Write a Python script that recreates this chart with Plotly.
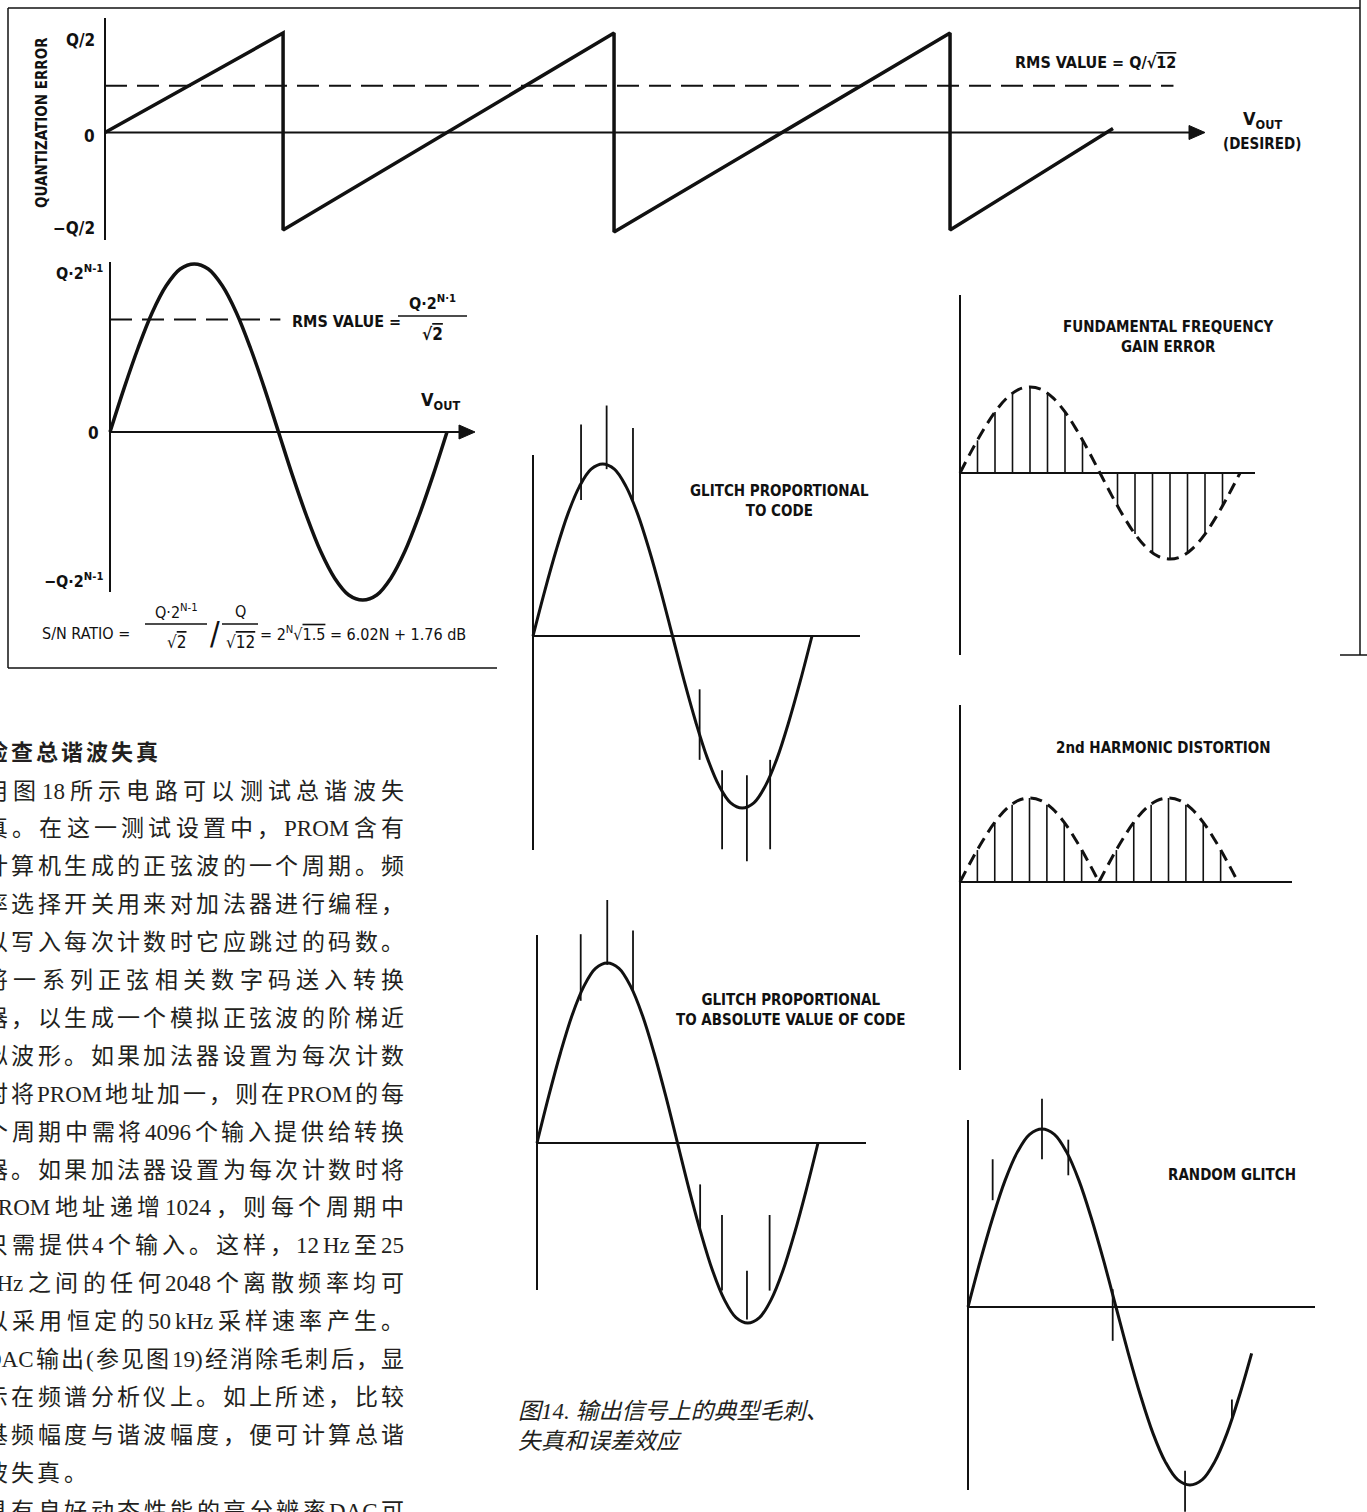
import plotly.graph_objects as go

W, H = 1367, 1512
INK = '#111111'
TXT = '#231f20'
DFONT = "Liberation Sans Narrow, DejaVu Sans Condensed, Arial Narrow, sans-serif"
CFONT = "Liberation Serif, Noto Sans CJK SC, serif"

# ---------------- data ----------------
# quantization error sawtooth (x: desired Vout in LSB steps, y: error in units of Q)
saw_x = [0, 0.53, 0.53, 1.515, 1.515, 2.515, 2.515, 3.0]
saw_y = [0, 0.51, -0.50, 0.51, -0.51, 0.51, -0.50, 0.02]
saw_rms = 0.24
saw_rms_end = 3.18

# one period of the full-scale sine (phase in degrees, amplitude in units of Q*2^(N-1))
sine_deg = [0, 15, 30, 45, 60, 75, 90, 105, 120, 135, 150, 165, 180,
            195, 210, 225, 240, 255, 270, 285, 300, 315, 330, 345, 360]
sine_val = [0, 0.26, 0.5, 0.71, 0.87, 0.97, 1.0, 0.97, 0.87, 0.71, 0.5, 0.26, 0,
            -0.26, -0.5, -0.71, -0.87, -0.97, -1.0, -0.97, -0.87, -0.71, -0.5, -0.26, 0]
sine_rms = 0.67
sine_rms_end = 182

# glitch proportional to code
g1_deg = [62, 95, 129, 215, 244, 276, 306]
g1_top = [1.23, 1.34, 1.21, -0.31, -0.78, -0.81, -0.72]
g1_bot = [0.79, 0.97, 0.79, -0.72, -1.24, -1.31, -1.24]

# glitch proportional to absolute value of code
g2_deg = [56, 90, 123, 209, 237, 269, 298]
g2_top = [1.16, 1.35, 1.18, -0.23, -0.40, -0.71, -0.40]
g2_bot = [0.79, 0.99, 0.85, -0.48, -0.82, -0.98, -0.82]

# fundamental frequency gain error: sample lines
gain_deg = [22.5, 45, 67.5, 90, 112.5, 135, 157.5, 202.5, 225, 247.5, 270, 292.5, 315, 337.5]
gain_val = [0.38, 0.71, 0.92, 1.0, 0.92, 0.71, 0.38, -0.38, -0.71, -0.92, -1.0, -0.92, -0.71, -0.38]

# 2nd harmonic distortion: dashed humps + sample lines
hump1_deg = [0, 15, 30, 45, 60, 75, 90, 105, 120, 135, 150, 165, 180]
hump2_deg = [180, 195, 210, 225, 240, 255, 270, 285, 300, 315, 330, 345, 360]
hump_val = [0, 0.26, 0.5, 0.71, 0.87, 0.97, 1.0, 0.97, 0.87, 0.71, 0.5, 0.26, 0]
h2_deg = [22.5, 45, 67.5, 90, 112.5, 135, 157.5, 202.5, 225, 247.5, 270, 292.5, 315, 337.5]
h2_val = [0.38, 0.71, 0.92, 1.0, 0.92, 0.71, 0.38, 0.38, 0.71, 0.92, 1.0, 0.92, 0.71, 0.38]

# random glitch
rg_end = 23   # sine drawn up to index 23 (345 deg)
rg_deg = [30, 90, 122, 176, 264, 321]
rg_top = [0.83, 1.17, 0.94, 0.10, -0.92, -0.52]
rg_bot = [0.60, 0.83, 0.74, -0.19, -1.15, -0.64]

# text column
heading = "检查总谐波失真"
body = [
    "用图18所示电路可以测试总谐波失",
    "真。在这一测试设置中，PROM含有",
    "计算机生成的正弦波的一个周期。频",
    "率选择开关用来对加法器进行编程，",
    "以写入每次计数时它应跳过的码数。",
    "将一系列正弦相关数字码送入转换",
    "器，以生成一个模拟正弦波的阶梯近",
    "似波形。如果加法器设置为每次计数",
    "时将PROM地址加一，则在PROM的每",
    "个周期中需将4096个输入提供给转换",
    "器。如果加法器设置为每次计数时将",
    "PROM地址递增1024，则每个周期中",
    "只需提供4个输入。这样，12 Hz至25",
    "kHz之间的任何2048个离散频率均可",
    "以采用恒定的50 kHz采样速率产生。",
    "DAC输出(参见图19)经消除毛刺后，显",
    "示在频谱分析仪上。如上所述，比较",
    "基频幅度与谐波幅度，便可计算总谐",
    "波失真。",
    "具有良好动态性能的高分辨率DAC可",
]
caption = "图14. 输出信号上的典型毛刺、<br>失真和误差效应"

# ---------------- layout geometry (pixels) ----------------
GEOM = {
    'saw':  dict(o=(105, 132.5), s=(336, 195), box=(95, 10, 1225, 248)),
    'sine': dict(o=(110, 432), s=(337 / 360, 168), box=(100, 250, 485, 612)),
    'g1':   dict(o=(533, 636), s=(279 / 360, 172), box=(520, 395, 870, 875)),
    'g2':   dict(o=(537, 1143), s=(281 / 360, 180), box=(525, 885, 875, 1340)),
    'gain': dict(o=(960, 473), s=(280 / 360, 86), box=(950, 290, 1265, 665)),
    'h2':   dict(o=(960, 882), s=(278 / 360, 84), box=(950, 695, 1300, 1080)),
    'rg':   dict(o=(968, 1307), s=(282 / 343, 178), box=(955, 1085, 1330, 1512)),
}
AXES = {
    'saw': dict(vt=18, vb=240, hx=1195, arrow=True),
    'sine': dict(vt=262, vb=592, hx=465, arrow=True),
    'g1': dict(vt=455, vb=850, hx=860, arrow=False),
    'g2': dict(vt=935, vb=1290, hx=866, arrow=False),
    'gain': dict(vt=295, vb=655, hx=1255, arrow=False),
    'h2': dict(vt=705, vb=1070, hx=1292, arrow=False),
    'rg': dict(vt=1120, vb=1490, hx=1315, arrow=False),
}

def PX(x):
    return x / W

def PY(y):
    return 1 - y / H

layout = dict(width=W, height=H, margin=dict(l=0, r=0, t=0, b=0),
              paper_bgcolor='white', plot_bgcolor='rgba(0,0,0,0)', showlegend=False)
AX = {}
shapes = []
for i, (name, g) in enumerate(GEOM.items(), start=1):
    sfx = '' if i == 1 else str(i)
    ox, oy = g['o']
    sx, sy = g['s']
    l, t, r, b = g['box']
    layout['xaxis' + sfx] = dict(domain=[PX(l), PX(r)], range=[(l - ox) / sx, (r - ox) / sx],
                                 visible=False, anchor='y' + sfx, fixedrange=True)
    layout['yaxis' + sfx] = dict(domain=[PY(b), PY(t)], range=[(oy - b) / sy, (oy - t) / sy],
                                 visible=False, anchor='x' + sfx, fixedrange=True)
    AX[name] = ('x' + sfx, 'y' + sfx)
    a = AXES[name]
    lw = 2
    shapes.append(dict(type='line', xref='paper', yref='paper', x0=PX(ox), x1=PX(ox),
                       y0=PY(a['vt']), y1=PY(a['vb']), line=dict(color=INK, width=lw)))
    shapes.append(dict(type='line', xref='paper', yref='paper', x0=PX(ox), x1=PX(a['hx']),
                       y0=PY(oy), y1=PY(oy), line=dict(color=INK, width=lw)))
    if a['arrow']:
        hx = a['hx']
        path = "M {},{} L {},{} L {},{} Z".format(PX(hx - 6), PY(oy - 7), PX(hx + 10), PY(oy),
                                                 PX(hx - 6), PY(oy + 7))
        shapes.append(dict(type='path', xref='paper', yref='paper', path=path,
                           fillcolor=INK, line=dict(color=INK, width=1)))

# frame lines
def hline(y, x0, x1, w=1.5):
    shapes.append(dict(type='line', xref='paper', yref='paper', x0=PX(x0), x1=PX(x1),
                       y0=PY(y), y1=PY(y), line=dict(color=INK, width=w)))

def vline(x, y0, y1, w=1.5):
    shapes.append(dict(type='line', xref='paper', yref='paper', x0=PX(x), x1=PX(x),
                       y0=PY(y0), y1=PY(y1), line=dict(color=INK, width=w)))

vline(8, 8, 668)
hline(8, 8, 1360)
hline(668, 8, 497)
vline(1360, 0, 655)
hline(655, 1340, 1367)
# fraction bars
hline(316, 398, 467, 1.5)
hline(624, 145, 207, 1.5)
hline(624, 222, 258, 1.5)

fig = go.Figure()

def add(name, x, y, width=3.5, dash=None, shape='linear'):
    xa, ya = AX[name]
    fig.add_trace(go.Scatter(x=x, y=y, xaxis=xa, yaxis=ya, mode='lines',
                             line=dict(color=INK, width=width, dash=dash, shape=shape),
                             hoverinfo='skip'))

def segs(xs, lo, hi):
    X, Y = [], []
    for a, b, c in zip(xs, lo, hi):
        X += [a, a, None]
        Y += [b, c, None]
    return X, Y

# quantization error
add('saw', saw_x, saw_y, width=3.5)
add('saw', [0, saw_rms_end], [saw_rms, saw_rms], width=2, dash='22px,10px')

# full-scale sine
add('sine', sine_deg, sine_val, width=3.5, shape='spline')
add('sine', [0, sine_rms_end], [sine_rms, sine_rms], width=2, dash='22px,10px')

# glitch proportional to code
add('g1', sine_deg, sine_val, width=3, shape='spline')
gx, gy = segs(g1_deg, g1_bot, g1_top)
add('g1', gx, gy, width=1.8)

# glitch proportional to |code|
add('g2', sine_deg, sine_val, width=3, shape='spline')
gx, gy = segs(g2_deg, g2_bot, g2_top)
add('g2', gx, gy, width=1.8)

# gain error
add('gain', sine_deg, sine_val, width=3, dash='12px,7px', shape='spline')
gx, gy = segs(gain_deg, [0] * len(gain_deg), gain_val)
add('gain', gx, gy, width=1.6)

# 2nd harmonic
add('h2', hump1_deg, hump_val, width=3, dash='12px,7px', shape='spline')
add('h2', hump2_deg, hump_val, width=3, dash='12px,7px', shape='spline')
gx, gy = segs(h2_deg, [0] * len(h2_deg), h2_val)
add('h2', gx, gy, width=1.6)

# random glitch
add('rg', sine_deg[:rg_end + 1], sine_val[:rg_end + 1], width=3, shape='spline')
gx, gy = segs(rg_deg, rg_bot, rg_top)
add('rg', gx, gy, width=1.8)

# ---------------- text ----------------
annotations = []

def ann(text, x, y, size=15, xanchor='center', yanchor='middle', weight='bold',
        family=DFONT, angle=0, style='normal', color=INK, align='center'):
    annotations.append(dict(text=text, x=PX(x), y=PY(y), xref='paper', yref='paper',
                            showarrow=False, xanchor=xanchor, yanchor=yanchor, textangle=angle,
                            align=align,
                            font=dict(family=family, size=size, color=color, weight=weight,
                                      style=style)))

OV = "<span style='text-decoration:overline'>{}</span>"

ann('QUANTIZATION ERROR', 42, 123, size=15, angle=-90)
ann('Q/2', 97, 40, size=17, xanchor='right')
ann('0', 97, 136, size=17, xanchor='right')
ann('\u2212Q/2', 97, 228, size=17, xanchor='right')
ann('RMS VALUE = Q/\u221a' + OV.format('12'), 1095, 62, size=16)
ann('V<sub>OUT</sub>', 1262, 120, size=18)
ann('(DESIRED)', 1262, 144, size=15)

ann('Q\u00b72<sup>N-1</sup>', 105, 272, size=16, xanchor='right')
ann('0', 101, 433, size=17, xanchor='right')
ann('\u2212Q\u00b72<sup>N-1</sup>', 105, 580, size=16, xanchor='right')
ann('RMS VALUE =', 290, 321, size=16, xanchor='left')
ann('Q\u00b72<sup>N\u00b71</sup>', 432, 302, size=16)
ann('\u221a' + OV.format('2'), 432, 334, size=17)
ann('V<sub>OUT</sub>', 440, 401, size=18)

ann('S/N RATIO =', 40, 633, size=16, xanchor='left', weight='normal')
ann('Q\u00b72<sup>N-1</sup>', 176, 611, size=16, weight='normal')
ann('\u221a' + OV.format('2'), 176, 642, size=17, weight='normal')
ann('/', 215, 633, size=32, weight='normal')
ann('Q', 240, 611, size=16, weight='normal')
ann('\u221a' + OV.format('12'), 240, 642, size=17, weight='normal')
ann('= 2<sup>N</sup>\u221a' + OV.format('1.5') + ' = 6.02N + 1.76 dB', 258, 633, size=16,
    xanchor='left', weight='normal')

ann('GLITCH PROPORTIONAL<br>TO CODE', 779, 501, size=15)
ann('GLITCH PROPORTIONAL<br>TO ABSOLUTE VALUE OF CODE', 790, 1010, size=15)
ann('FUNDAMENTAL FREQUENCY<br>GAIN ERROR', 1168, 337, size=15)
ann('2nd HARMONIC DISTORTION', 1163, 748, size=15)
ann('RANDOM GLITCH', 1232, 1175, size=15)

ann(caption, 516, 1426, size=23, xanchor='left', weight='normal', family=CFONT,
    style='italic', color=TXT, align='left')

# justified Chinese column
LAT = {'0': .5, '1': .5, '2': .5, '3': .5, '4': .5, '5': .5, '6': .5, '7': .5, '8': .5,
       '9': .5, 'A': .722, 'C': .667, 'D': .722, 'H': .722, 'M': .889, 'O': .722,
       'P': .556, 'R': .667, 'k': .5, 'z': .444, '(': .333, ')': .333, '.': .25}
FS = 23

def tokens(line):
    toks, buf = [], ''
    for ch in line:
        if ord(ch) > 0x2E80:
            if buf:
                toks.append(buf)
                buf = ''
            toks.append(ch)
        elif ch == ' ':
            if buf:
                toks.append(buf)
                buf = ''
        else:
            buf += ch
    if buf:
        toks.append(buf)
    return toks

def tw(t, fs):
    if len(t) == 1 and ord(t) > 0x2E80:
        return fs
    return sum(LAT.get(c, .55) for c in t) * fs

def place(line, y, x0, x1, fs, justify=True, pitch_gap=3.2, weight='normal'):
    toks = tokens(line)
    ws = [tw(t, fs) for t in toks]
    gap = (x1 - x0 - sum(ws)) / (len(toks) - 1) if justify else pitch_gap
    x = x0
    for t, w in zip(toks, ws):
        ann(t, x + w / 2, y, size=fs, weight=weight, family=CFONT, color=TXT)
        x += w + gap

place(heading, 752, -14, 158, 22, justify=True, weight='bold')
X0, X1 = -15, 404
for i, line in enumerate(body):
    yy = 791 + 37.9 * i
    place(line, yy, X0, X1, FS, justify=(line != "波失真。"))

layout['shapes'] = shapes
layout['annotations'] = annotations
fig.update_layout(**layout)
fig.write_html("out.html", config={'displayModeBar': False},
               post_script="document.body.style.margin='0px';document.body.style.padding='0px';")
